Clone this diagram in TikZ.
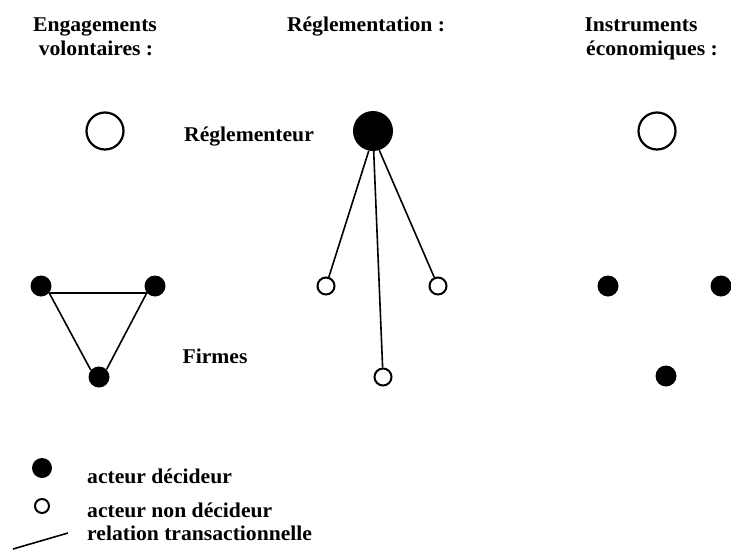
\documentclass[tikz,border=0pt]{standalone}
\usepackage{fontspec}
\setmainfont{Liberation Serif}
\newcommand\widetext[1]{\scalebox{1.03}[1]{#1}}
\tikzset{
  lbl/.style={font=\fontsize{21}{25}\selectfont\bfseries, inner sep=0pt, anchor=base},
  legtxt/.style={lbl, anchor=base west},
  bigopen/.style={circle, draw, line width=2.2pt, minimum size=37pt, inner sep=0pt},
  bigfilled/.style={circle, fill, minimum size=40pt, inner sep=0pt},
  dot/.style={circle, fill, minimum size=21pt, inner sep=0pt},
  ring/.style={circle, draw, line width=2pt, minimum size=17pt, inner sep=0pt},
  link/.style={line width=1.6pt},
}
\begin{document}
\begin{tikzpicture}[x=1pt, y=-1pt]
\useasboundingbox (0,0) rectangle (731,549);

% column headings
\node[lbl] (h1a) at (95,31) {\widetext{Engagements}};
\node[lbl] (h1b) at (96,55) {\widetext{volontaires :}};
\node[lbl] (h2) at (366,31) {\widetext{Réglementation :}};
\node[lbl] (h3a) at (641,31) {\widetext{Instruments}};
\node[lbl] (h3b) at (652,55) {\widetext{économiques :}};

% regulator row
\node[bigopen] (r1) at (105,131) {};
\node[bigfilled] (r2) at (373,131) {};
\node[bigopen] (r3) at (657,131) {};
\node[lbl] (regl) at (249,141) {\widetext{Réglementeur}};

% voluntary commitments: firms linked to each other
\node[dot] (a1) at (41,286) {};
\node[dot] (a2) at (155,286) {};
\node[dot] (a3) at (99,377) {};
\draw[link] (a1.-40) -- (a2.-140);
\draw[link] (a1.-40) -- (a3.140);
\draw[link] (a2.-140) -- (a3.45);
\node[lbl] (firm) at (215,363) {\widetext{Firmes}};

% regulation: regulator linked to each firm
\node[ring] (b1) at (326,286) {};
\node[ring] (b2) at (438,286) {};
\node[ring] (b3) at (383,377) {};
\draw[link] (r2.-102) -- (b1);
\draw[link] (r2.-88) -- (b3);
\draw[link] (r2.-72) -- (b2);

% economic instruments: unlinked firms
\node[dot] (c1) at (608,286) {};
\node[dot] (c2) at (721,286) {};
\node[dot] (c3) at (666,376) {};

% legend
\node[dot, minimum size=20pt] (k1) at (42,468) {};
\node[ring, minimum size=14pt] (k2) at (42,506) {};
\coordinate (k3a) at (13,549);
\coordinate (k3b) at (68,533);
\draw[link] (k3a) -- (k3b);
\node[legtxt] (t1) at (87,483) {\widetext{acteur décideur}};
\node[legtxt] (t2) at (87,517) {\widetext{acteur non décideur}};
\node[legtxt] (t3) at (87,540) {\widetext{relation transactionnelle}};
\end{tikzpicture}
\end{document}
